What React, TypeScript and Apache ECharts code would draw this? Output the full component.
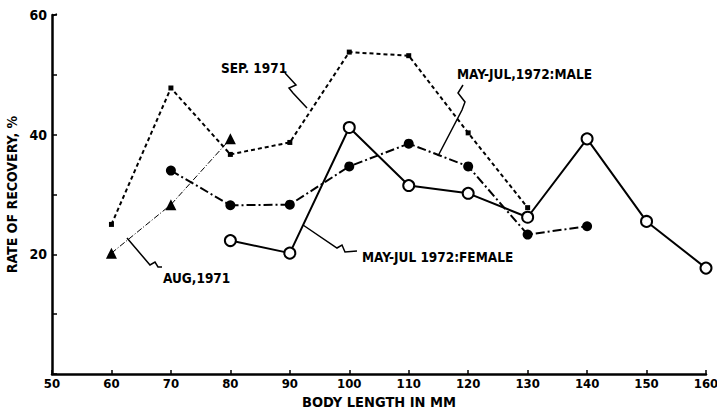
import React, { useEffect, useRef } from "react";
import * as echarts from "echarts";

const bodyLength = [60, 70, 80, 90, 100, 110, 120, 130, 140, 150, 160];

const sep1971: [number, number][] = [
  [60, 25], [70, 47.8], [80, 36.7], [90, 38.7], [100, 53.8], [110, 53.2], [120, 40.3], [130, 27.8],
];
const aug1971: [number, number][] = [
  [60, 20.2], [70, 28.3], [80, 39.3],
];
const male1972: [number, number][] = [
  [70, 34], [80, 28.2], [90, 28.3], [100, 34.7], [110, 38.5], [120, 34.7], [130, 23.3], [140, 24.7],
];
const female1972: [number, number][] = [
  [80, 22.3], [90, 20.2], [100, 41.2], [110, 31.5], [120, 30.2], [130, 26.2], [140, 39.3], [150, 25.5], [160, 17.7],
];

const yLabels = [20, 40, 60];

const FONT = "'DejaVu Sans Condensed', 'Liberation Sans', sans-serif";

export default function App() {
  const ref = useRef<HTMLDivElement>(null);
  useEffect(() => {
    document.body.style.margin = "0";
    const chart = echarts.init(ref.current!, undefined, { renderer: "svg" });
    const txt = (text: string, x: number, y: number) => ({
      type: "text",
      style: { text, x, y, font: `bold 13.5px ${FONT}`, fill: "#000", textVerticalAlign: "middle" },
    });
    const leader = (points: number[][]) => ({
      type: "polyline",
      shape: { points },
      style: { stroke: "#000", lineWidth: 1.5, fill: "none" },
    });
    chart.setOption({
      animation: false,
      backgroundColor: "#fff",
      grid: { left: 52, right: 11, top: 15, bottom: 37, containLabel: false, outerBoundsMode: "none" },
      xAxis: {
        type: "value",
        min: 50,
        max: 160,
        interval: 10,
        name: "BODY LENGTH IN MM",
        nameLocation: "middle",
        nameGap: 18,
        nameTextStyle: { color: "#000", fontWeight: "bold", fontSize: 14.5, fontFamily: FONT },
        axisLine: { lineStyle: { color: "#000", width: 2.5 } },
        axisTick: { inside: true, length: 4, lineStyle: { color: "#000", width: 1.5 } },
        axisLabel: { color: "#000", fontWeight: "bold", fontSize: 13, fontFamily: FONT, margin: 3 },
        splitLine: { show: false },
      },
      yAxis: {
        type: "value",
        min: 0,
        max: 60,
        interval: 10,
        name: "RATE OF RECOVERY, %",
        nameLocation: "middle",
        nameGap: 31,
        nameRotate: 90,
        nameTextStyle: { color: "#000", fontWeight: "bold", fontSize: 14, fontFamily: FONT },
        axisLine: { show: true, lineStyle: { color: "#000", width: 2.5 } },
        axisTick: { inside: true, length: 5, lineStyle: { color: "#000", width: 1.5 } },
        axisLabel: {
          color: "#000",
          fontWeight: "bold",
          fontSize: 14,
          fontFamily: FONT,
          margin: 5,
          formatter: (v: number) => (yLabels.includes(v) ? String(v) : ""),
        },
        splitLine: { show: false },
      },
      series: [
        {
          name: "SEP. 1971",
          type: "line",
          data: sep1971,
          symbol: "rect",
          symbolSize: 5,
          itemStyle: { color: "#000" },
          lineStyle: { color: "#000", width: 2, type: [4, 3] },
        },
        {
          name: "AUG, 1971",
          type: "line",
          data: aug1971,
          symbol: "triangle",
          symbolSize: 11,
          itemStyle: { color: "#000" },
          lineStyle: { color: "#000", width: 1, type: [6, 2, 1, 2] },
        },
        {
          name: "MAY-JUL, 1972: MALE",
          type: "line",
          data: male1972,
          symbol: "circle",
          symbolSize: 10,
          itemStyle: { color: "#000" },
          lineStyle: { color: "#000", width: 2, type: [9, 3, 2, 3] },
        },
        {
          name: "MAY-JUL 1972: FEMALE",
          type: "line",
          data: female1972,
          symbol: "circle",
          symbolSize: 11,
          itemStyle: { color: "#fff", borderColor: "#000", borderWidth: 2 },
          lineStyle: { color: "#000", width: 2 },
        },
      ],
      graphic: [
        txt("SEP. 1971", 221, 68),
        leader([[285, 73], [296, 85], [289, 88], [293, 93], [307, 108]]),
        txt("MAY-JUL,1972:MALE", 457, 74),
        leader([[463, 85], [458, 93], [465, 102], [462, 110], [438, 156]]),
        txt("AUG,1971", 163, 278),
        leader([[127, 238], [150, 265], [155, 262], [158, 267], [162, 267]]),
        txt("MAY-JUL 1972:FEMALE", 362, 257),
        leader([[303, 225], [337, 248], [342, 245], [345, 252], [357, 251]]),
        leader([[52, 16], [57, 14]]),
      ],
    });
    return () => chart.dispose();
  }, []);
  return <div ref={ref} style={{ width: 717, height: 411 }} />;
}
